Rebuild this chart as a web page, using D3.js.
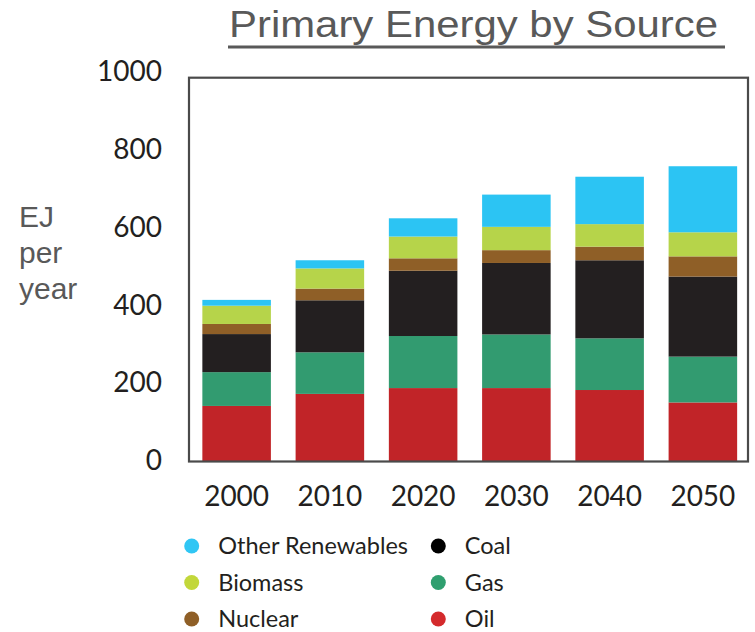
<!DOCTYPE html>
<html>
<head>
<meta charset="utf-8">
<script src="https://cdn.jsdelivr.net/npm/d3@7"></script>
<style>
  html, body { margin: 0; padding: 0; background: #fff; }
  svg { display: block; }
</style>
</head>
<body>
<svg id="chart" width="755" height="632"></svg>
<script>
// ---- data ----
const years = ["2000", "2010", "2020", "2030", "2040", "2050"];
const oil = [143, 174, 189, 189, 184, 152];
const gas = [87, 107, 134, 138, 133, 118];
const coal = [98, 134, 168, 184, 201, 206];
const nuclear = [26, 30, 32, 33, 35, 52];
const biomass = [47, 52, 56, 60, 58, 62];
const otherRenewables = [15, 21, 47, 83, 122, 170];
const yTicks = [0, 200, 400, 600, 800, 1000];
const seriesNames = ["Oil", "Gas", "Coal", "Nuclear", "Biomass", "Other Renewables"];
const title = "Primary Energy by Source";
const yLabelLines = ["EJ", "per", "year"];

// ---- styling ----
const barColors = {
  "Oil": "#c12428", "Gas": "#329b70", "Coal": "#231f20",
  "Nuclear": "#8f5f27", "Biomass": "#b6d44a", "Other Renewables": "#2cc4f3"
};
const legendColors = {
  "Oil": "#d42a2c", "Gas": "#2f9f6f", "Coal": "#000000",
  "Nuclear": "#8f5f27", "Biomass": "#c2d73a", "Other Renewables": "#30c6f4"
};
const futura = "Lato, 'Noto Sans', sans-serif";

const svg = d3.select("#chart");

const table = years.map((yr, i) => ({
  year: yr,
  "Oil": oil[i], "Gas": gas[i], "Coal": coal[i],
  "Nuclear": nuclear[i], "Biomass": biomass[i], "Other Renewables": otherRenewables[i]
}));

const stack = d3.stack().keys(seriesNames);
const stacked = stack(table);

const plot = { left: 189, right: 748, top: 77.7, bottom: 461.5 };

const x = d3.scaleBand()
  .domain(years)
  .range([190, 749.5])
  .paddingInner(0.265)
  .paddingOuter(0.1325);

const y = d3.scaleLinear().domain([0, 1000]).range([plot.bottom, 73]);

// bars
svg.append("g").selectAll("g")
  .data(stacked)
  .join("g")
  .attr("fill", d => barColors[d.key])
  .selectAll("rect")
  .data(d => d)
  .join("rect")
  .attr("x", d => x(d.data.year))
  .attr("width", x.bandwidth())
  .attr("y", d => y(d[1]))
  .attr("height", d => y(d[0]) - y(d[1]));

// frame
svg.append("rect")
  .attr("x", plot.left)
  .attr("y", plot.top)
  .attr("width", plot.right - plot.left)
  .attr("height", plot.bottom - plot.top)
  .attr("fill", "none")
  .attr("stroke", "#4a4a4a")
  .attr("stroke-width", 2.2);

// y axis labels
const yAxis = d3.axisLeft(y).tickValues(yTicks).tickFormat(d3.format("d")).tickSize(0).tickPadding(0);
const yg = svg.append("g").attr("transform", "translate(162,-1)").call(yAxis);
yg.select(".domain").remove();
yg.selectAll("text")
  .attr("font-family", futura)
  .attr("font-size", 28)
  .attr("fill", "#231f20")
  .attr("text-anchor", "end")
  .attr("x", 0);

// x axis labels
const xAxis = d3.axisBottom(x).tickSize(0).tickPadding(0);
const xg = svg.append("g").attr("transform", "translate(0,486)").call(xAxis);
xg.select(".domain").remove();
xg.selectAll("text")
  .attr("font-family", futura)
  .attr("font-size", 28)
  .attr("fill", "#231f20")
  .attr("dy", "0.71em")
  .attr("y", 0);

// title
svg.append("text")
  .attr("x", 229)
  .attr("y", 37)
  .attr("font-family", "'Liberation Sans', Arial, sans-serif")
  .attr("font-size", 36)
  .attr("fill", "#595959")
  .attr("textLength", 489)
  .attr("lengthAdjust", "spacingAndGlyphs")
  .text(title);
svg.append("rect")
  .attr("x", 228).attr("y", 45.5)
  .attr("width", 497).attr("height", 3)
  .attr("fill", "#595959");

// y label
svg.append("g").selectAll("text")
  .data(yLabelLines)
  .join("text")
  .attr("x", 19)
  .attr("y", (d, i) => 227 + i * 36)
  .attr("font-family", "'Liberation Sans', Arial, sans-serif")
  .attr("font-size", 30)
  .attr("fill", "#595959")
  .text(d => d);

// legend
const legendOrder = ["Other Renewables", "Biomass", "Nuclear", "Coal", "Gas", "Oil"];
const lg = svg.append("g");
legendOrder.forEach((name, i) => {
  const col = Math.floor(i / 3), row = i % 3;
  const cx = col === 0 ? 191.7 : 438.3;
  const cy = 546 + row * 36.5;
  lg.append("circle")
    .attr("cx", cx).attr("cy", cy).attr("r", 7.5)
    .attr("fill", legendColors[name]);
  lg.append("text")
    .attr("x", cx + 26.5)
    .attr("y", cy + 8)
    .attr("font-family", futura)
    .attr("font-size", 23.5)
    .attr("fill", "#231f20")
    .text(name);
});
</script>
</body>
</html>
